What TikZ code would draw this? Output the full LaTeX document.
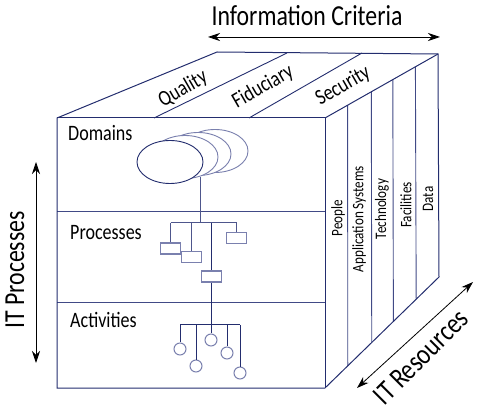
\documentclass[tikz,border=0pt]{standalone}
\usepackage{fontspec}
\setmainfont{Carlito}[FakeStretch=0.82]
\usetikzlibrary{arrows.meta,shapes.geometric,calc}
\definecolor{cubeline}{HTML}{232D6E}
\definecolor{innerline}{HTML}{414A86}
\definecolor{treeline}{HTML}{4E568C}
\definecolor{paleline}{HTML}{7A80AE}
\tikzset{
  twoway/.style={{Stealth[length=12pt,width=8pt]}-{Stealth[length=12pt,width=8pt]},line width=0.8pt,black},
  biglabel/.style={font=\fontsize{29}{33}\selectfont,inner sep=0pt},
  rowlabel/.style={font=\fontsize{22}{26}\selectfont,inner sep=0pt,anchor=base west},
  toplabel/.style={font=\fontsize{22}{26}\selectfont,inner sep=0pt,rotate=30},
  reslabel/.style={font=\fontsize{16}{19}\selectfont,inner sep=0pt,rotate=90},
  domring/.style={ellipse,draw=paleline,fill=white,line width=0.9pt,minimum width=66pt,minimum height=43pt,inner sep=0pt},
  procbox/.style={rectangle,draw=paleline,fill=white,line width=1.1pt,minimum width=20pt,minimum height=11pt,inner sep=0pt},
  actleaf/.style={circle,draw=paleline,fill=white,line width=1pt,minimum size=12pt,inner sep=0pt}
}
\begin{document}
\begin{tikzpicture}[x=1pt,y=-1pt]
\useasboundingbox (0,0) rectangle (477,414);
\coordinate (ftl) at (57,118);
\coordinate (ftr) at (325,118);
\coordinate (fbl) at (57,388);
\coordinate (fbr) at (325,388);
\coordinate (btl) at (217,52);
\coordinate (btr) at (438,54);
\coordinate (bbr) at (439,277);
% rows of the front face
\draw[innerline,line width=0.9pt] (57,211) -- (325,211);
\draw[innerline,line width=0.9pt] (57,302) -- (325,302);
% strips of the top and side faces
\draw[cubeline,line width=0.9pt] (154,118) -- (287,53);
\draw[cubeline,line width=0.9pt] (249,118) -- (362,53);
\foreach \t in {0.2,0.41,0.6,0.8}
  \draw[innerline,line width=0.9pt] ($(ftr)!\t!(btr)$) -- ($(fbr)!\t!(bbr)$);
\draw[cubeline,line width=1pt] (ftl) -- (btl) -- (btr) -- (bbr) -- (fbr) -- (fbl) -- cycle;
\draw[cubeline,line width=1pt] (ftl) -- (ftr) -- (fbr);
\draw[cubeline,line width=1pt] (ftr) -- (btr);

\node[biglabel] (crit) at (307,16) {Information Criteria};
\coordinate (crit-l) at (208,37);
\coordinate (crit-r) at (440,37);
\draw[twoway] (crit-l) -- (crit-r);
\node[biglabel,rotate=90] (proc) at (15,270) {IT Processes};
\coordinate (proc-t) at (36,162);
\coordinate (proc-b) at (36,363);
\draw[twoway] (proc-t) -- (proc-b);
\node[biglabel,rotate=45] (res) at (421,357) {IT Resources};
\coordinate (res-l) at (357,388);
\coordinate (res-r) at (473,282);
\draw[twoway] (res-l) -- (res-r);

\node[toplabel] (quality) at (183,89) {Quality};
\node[toplabel] (fiduc) at (263,87) {Fiduciary};
\node[toplabel] (secur) at (343,86) {Security};
\node[reslabel] (people) at (338,218) {People};
\node[reslabel] (apps) at (359,219) {Application Systems};
\node[reslabel] (tech) at (382,209) {Technology};
\node[reslabel] (facil) at (406,205) {Facilities};
\node[reslabel] (data) at (428,199) {Data};

\node[rowlabel] (domains) at (68,141) {Domains};
\node[rowlabel] (processes) at (70,240) {Processes};
\node[rowlabel] (activities) at (70,327) {Activities};

% domains
\node[domring] (dom4) at (215,151) {};
\node[domring] (dom3) at (198,154) {};
\node[domring] (dom2) at (185,157) {};
\node[domring,draw=cubeline] (dom1) at (170,162) {};
\coordinate (dom-out) at (200,177);

% processes
\node[procbox] (boxa) at (170.5,248.5) {};
\node[procbox] (boxb) at (191.5,257) {};
\node[procbox] (boxc) at (211.5,276.5) {};
\node[procbox] (boxd) at (236.5,238) {};
\coordinate (pbar) at (200,223);
\draw[treeline,line width=1pt] (dom-out) -- (pbar);
\draw[treeline,line width=1pt] (boxa |- pbar) -- (boxd |- pbar);
\foreach \b in {boxa,boxb,boxd}
  \draw[treeline,line width=1pt] (\b |- pbar) -- (\b.north);
\draw[cubeline,line width=1pt] (boxc |- pbar) -- (boxc.north);

% activities
\foreach \n/\x/\y in {1/180/349,2/196/366,3/211/340,4/227/353,5/240/373}
  \node[actleaf] (act\n) at (\x,\y) {};
\coordinate (abar) at (211.5,325);
\draw[cubeline,line width=1pt] (boxc.south) -- (abar);
\draw[cubeline,line width=1pt] (act1 |- abar) -- (act5 |- abar);
\foreach \n in {1,...,5}
  \draw[cubeline,line width=1pt] (act\n |- abar) -- (act\n.north);
\end{tikzpicture}
\end{document}
